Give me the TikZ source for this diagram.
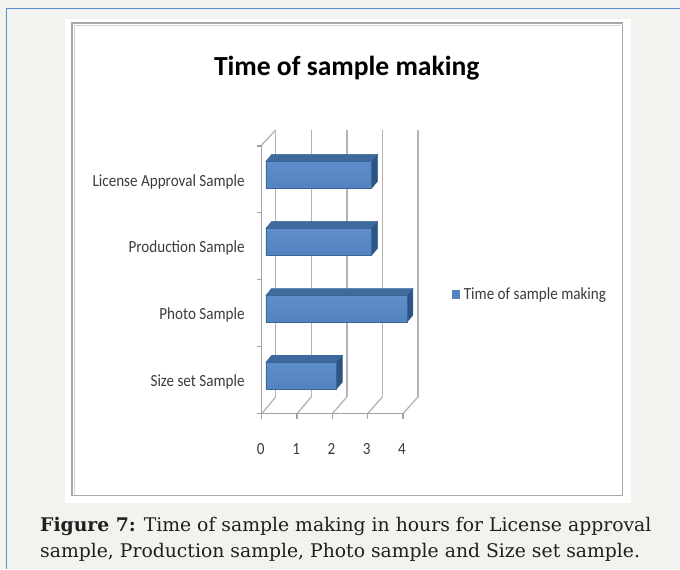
\documentclass[tikz,border=0pt]{standalone}
\usepackage{fontspec}
\usepackage{graphicx}
\setmainfont{DejaVu Serif}
\newfontfamily\chartfont{Carlito}
\newcommand{\narrowtext}[1]{\scalebox{0.89}[1]{#1}}
\definecolor{pagebg}{HTML}{F2F2EE}
\definecolor{pageline}{HTML}{5B8DD6}
\definecolor{framegray}{HTML}{A8A8A8}
\definecolor{framelight}{HTML}{D4D4D4}
\definecolor{gridgray}{HTML}{B4B4B4}
\definecolor{barfront}{HTML}{5283C0}
\definecolor{barfrontlight}{HTML}{5E8FCB}
\definecolor{bartop}{HTML}{3F6A9E}
\definecolor{barside}{HTML}{2E5485}
\definecolor{baredge}{HTML}{3A6595}
\definecolor{labelgray}{HTML}{3C3C3C}
\tikzset{
  gridline/.style={draw=gridgray, line width=1.3pt},
  axisline/.style={draw=gridgray!90!black, line width=1.3pt},
  catlabel/.style={anchor=east, inner sep=0pt, text=labelgray,
    font=\chartfont\fontsize{17}{20}\selectfont},
  numlabel/.style={anchor=center, inner sep=0pt, text=labelgray,
    font=\chartfont\fontsize{17}{20}\selectfont},
  captext/.style={anchor=base west, inner sep=0pt, text=black!88,
    font=\fontsize{18.8}{22}\selectfont},
}
\begin{document}
\begin{tikzpicture}[x=1pt, y=-1pt]
  % page background and its edge lines
  \fill[pagebg] (0,0) rectangle (680,569);
  \draw[pageline, line width=1pt] (7,569) -- (7,9) -- (680,9);
  % white panel and chart frame
  \fill[white] (65,19) rectangle (631,503);
  \draw[framegray, line width=1.6pt] (72,23) rectangle (623,496);
  \draw[framelight, line width=1.4pt] (74.5,494) -- (74.5,25.5) -- (621,25.5);

  % title
  \node[inner sep=0pt, font=\chartfont\bfseries\fontsize{27.6}{32}\selectfont]
    (title) at (347,68) {Time of sample making};

  % back wall grid lines and floor diagonals
  \foreach \i in {0,...,4}{
    \draw[gridline] (276+35.6*\i,130) -- (276+35.6*\i,397);
    \draw[gridline] (262+35.3*\i,414) -- (276+35.6*\i,397);
    \draw[axisline] (262+35.3*\i,414) -- (262+35.3*\i,419);
    \node[numlabel] (n\i) at (261+35.3*\i,449) {\narrowtext{\i}};
  }
  % front axes and side wall edge
  \draw[axisline] (262,145) -- (262,414) -- (404,414);
  \draw[gridline] (262,145) -- (276,130);
  \foreach \k in {0,...,4}{
    \draw[axisline] (257,414-67*\k) -- (262,414-67*\k);
  }

  % 3-D bars: slot index / value
  \foreach \k/\v in {0/2,1/4,2/3,3/3}{
    \pgfmathsetmacro\yt{414-67*\k-38-13.5}
    \pgfmathsetmacro\yb{414-67*\k-38+13.5}
    \pgfmathsetmacro\xr{266+35.3*\v}
    \fill[bartop, draw=baredge, line width=0.4pt]
      (266,\yt) -- (272,\yt-7) -- (\xr+6,\yt-7) -- (\xr,\yt) -- cycle;
    \fill[barside, draw=baredge, line width=0.4pt]
      (\xr,\yt) -- (\xr+6,\yt-7) -- (\xr+6,\yb-7) -- (\xr,\yb) -- cycle;
    \shade[top color=barfrontlight, bottom color=barfront]
      (266,\yt) rectangle (\xr,\yb);
    \draw[baredge, line width=0.4pt] (266,\yt) rectangle (\xr,\yb);
  }

  % category labels
  \node[catlabel] (c0) at (245,382) {\narrowtext{Size set Sample}};
  \node[catlabel] (c1) at (245,315) {\narrowtext{Photo Sample}};
  \node[catlabel] (c2) at (245,248) {\narrowtext{Production Sample}};
  \node[catlabel] (c3) at (245,182) {\narrowtext{License Approval Sample}};

  % legend
  \fill[barfront] (452,290) rectangle (460,299);
  \node[catlabel, anchor=west] (leg) at (464,295) {\narrowtext{Time of sample making}};

  % caption
  \node[captext] (cap1) at (40,532)
    {\textbf{Figure 7:} Time of sample making in hours for License approval};
  \node[captext] (cap2) at (40,558)
    {sample, Production sample, Photo sample and Size set sample.};
\end{tikzpicture}
\end{document}
